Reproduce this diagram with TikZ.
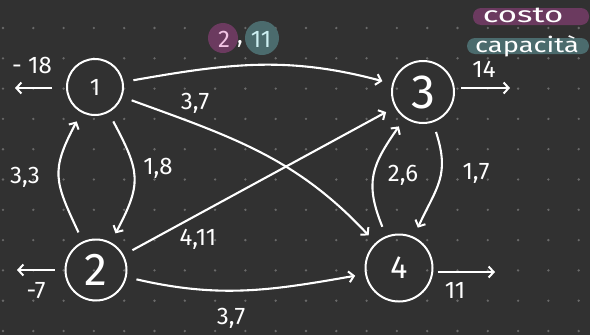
\documentclass[tikz,border=0pt]{standalone}
\usepackage{fontspec}
\setmainfont{Fira Sans}
\usetikzlibrary{arrows.meta}
\definecolor{bg}{HTML}{313131}
\definecolor{griddot}{HTML}{6A6A6A}
\definecolor{pinkc}{HTML}{6B3A5F}
\definecolor{tealc}{HTML}{4B6B6D}
\definecolor{pinktxt}{HTML}{F2C4E4}
\definecolor{tealtxt}{HTML}{CDEFF2}
\tikzset{
  vert/.style={circle, draw=white, line width=2pt, text=white, outer sep=11pt},
  edge/.style={draw=white, line width=2.1pt, -{Straight Barb[length=5pt,width=11pt,line width=2pt]}},
  lab/.style={text=white, font=\fontsize{24}{24}\selectfont, inner sep=0pt},
}
\begin{document}
\begin{tikzpicture}[x=1pt,y=-1pt]
\fill[bg] (0,0) rectangle (590,335);
\useasboundingbox (0,0) rectangle (590,335);
% dot grid
\foreach \i in {0,...,19}{
  \foreach \j in {0,...,10}{
    \fill[griddot] ({3+30.3*\i},{28+30.3*\j}) circle (1.3pt);
  }
}
% legend
\fill[pinkc, rounded corners=8pt] (473,8) rectangle (589,25);
\node[text=white, font=\fontsize{22}{22}\selectfont, inner sep=0pt] (lcosto) at (523,15) {\scalebox{1.5}[1]{costo}};
\fill[tealc, rounded corners=8pt] (467,38) rectangle (589,54);
\node[text=white, font=\fontsize{21}{21}\selectfont, inner sep=0pt] (lcap) at (527,46) {\scalebox{1.3}[1]{capacità}};
% nodes
\node[vert, minimum size=56pt, font=\fontsize{24}{24}\selectfont] (n1) at (95,87) {1};
\node[vert, minimum size=61pt, font=\fontsize{46}{46}\selectfont] (n2) at (96,270) {2};
\node[vert, minimum size=62pt, font=\fontsize{48}{48}\selectfont] (n3) at (423,92) {3};
\node[vert, minimum size=67pt, font=\fontsize{32}{32}\selectfont] (n4) at (399,268) {4};
% external coordinates
\coordinate (e1) at (15,88);
\coordinate (e2) at (17,270);
\coordinate (e3) at (510,88);
\coordinate (e4) at (495,272);
\draw[edge] (n1.west) ++(-4,1) -- (e1);
\draw[edge] (n2.west) -- (e2);
\draw[edge] (n3.east) ++(-4,-4) -- (e3);
\draw[edge] (n4.east) ++(-6,4) -- (e4);
% edges
\draw[edge] (n1) to[out=10, in=165] (n3);
\draw[edge] (n1) to[out=-20, in=133] (n4);
\draw[edge] (n2) -- (n3);
\draw[edge] (n2) to[out=-13, in=190] (n4);
\draw[edge] (n1) to[out=-62, in=62, looseness=1.3] (n2);
\draw[edge] (n2) to[out=115, in=-118, looseness=1.3] (n1);
\draw[edge] (n4) to[out=112, in=-125, looseness=1.2] (n3);
\draw[edge] (n3) to[out=-72, in=65, looseness=1.2] (n4);
% cost/capacity highlight
\fill[pinkc] (223,38) circle (15pt);
\fill[tealc] (262,38) circle (17pt);
\node[lab, text=pinktxt] (c2) at (224,39) {2};
\node[lab] (comma) at (240,44) {,};
\node[lab, text=tealtxt] (c11) at (261,39) {11};
% labels
\node[lab] (l18) at (32,65) {- 18};
\node[lab] (l7) at (36,291) {-7};
\node[lab] (l14) at (484,69) {14};
\node[lab] (l11) at (455,290) {11};
\node[lab] (l13) at (195,103) {3,7};
\node[lab] (l23) at (198,239) {4,11};
\node[lab] (l24) at (231,318) {3,7};
\node[lab] (l12) at (158,168) {1,8};
\node[lab] (l21) at (25,177) {3,3};
\node[lab] (l43) at (403,175) {2,6};
\node[lab] (l34) at (476,173) {1,7};
\end{tikzpicture}
\end{document}
